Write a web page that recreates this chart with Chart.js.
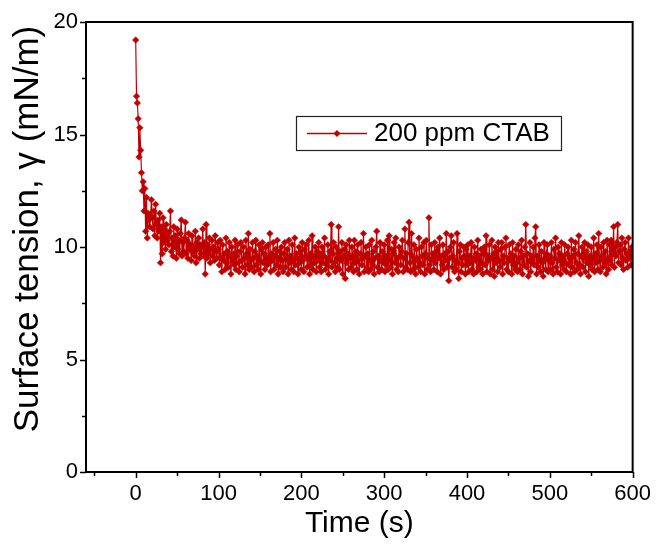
<!DOCTYPE html>
<html><head><meta charset="utf-8">
<script src="https://cdn.jsdelivr.net/npm/chart.js@4"></script>
<style>html,body{margin:0;padding:0;background:#fff;}#wrap{width:660px;height:546px;position:relative;}</style>
</head><body><div id="wrap"><canvas id="c" width="660" height="546"></canvas></div>
<script>
const seriesLabel = '200 ppm CTAB';
const xTitle = 'Time (s)';
const yTitle = 'Surface tension, \u03B3 (mN/m)';
const xMajorTicks = [0, 100, 200, 300, 400, 500, 600];
const xMinorTicks = [-50, 50, 150, 250, 350, 450, 550];
const yMajorTicks = [0, 5, 10, 15, 20];
const yMinorTicks = [2.5, 7.5, 12.5, 17.5];
const timeStep = 1; // one reading per second, starting at t = 0
const tension = [
19.2,16.7,16.4,15.7,14.0,15.3,14.3,13.3,12.5,12.9,11.6,12.6,10.7,12.2,10.4,11.5,11.2,10.9,11.4,12.1,
11.3,10.8,11.6,10.5,11.9,11.0,10.4,11.2,10.7,11.5,9.3,10.9,9.7,11.3,10.2,10.8,9.9,11.0,10.3,10.6,
10.1,10.7,11.6,9.8,10.4,9.6,10.9,10.0,10.5,9.5,10.8,9.9,10.3,9.7,10.6,11.2,9.6,10.2,9.8,10.4,
11.1,9.7,10.3,9.5,10.6,9.9,10.1,9.4,10.5,9.8,10.0,9.6,10.7,9.3,10.2,9.9,10.4,9.5,10.1,9.7,
10.0,10.8,9.6,10.2,8.8,11.0,9.5,10.1,9.7,10.4,9.3,9.9,10.3,9.6,10.0,9.4,10.5,9.8,9.5,10.2,
9.9,9.2,10.3,9.5,8.9,10.1,9.4,9.7,9.0,10.4,9.3,9.8,9.1,10.2,9.6,8.8,10.0,9.4,9.7,9.2,
10.3,9.0,9.6,10.1,9.3,8.9,9.8,10.2,9.4,9.1,10.0,9.5,8.8,10.3,9.7,9.2,10.6,9.0,9.9,9.4,
9.1,10.2,9.5,8.9,9.8,10.3,9.2,9.6,9.0,10.1,9.4,8.8,9.9,10.2,9.3,9.7,9.0,10.0,9.5,9.2,
10.1,9.3,10.6,8.9,9.7,9.4,10.2,9.0,9.6,9.9,9.2,10.3,8.8,9.5,9.8,9.1,10.0,9.4,8.9,9.7,
10.2,9.1,9.5,9.9,8.8,10.3,9.3,9.6,9.0,10.1,9.4,8.9,10.4,9.2,9.7,9.5,8.8,10.0,9.3,9.8,
9.0,10.2,9.4,8.9,9.9,9.6,10.1,9.1,9.5,10.3,8.8,9.7,9.2,10.5,9.0,9.6,9.3,10.0,8.9,9.8,
9.4,10.2,9.1,9.7,8.9,10.0,9.3,9.6,10.4,9.0,9.5,9.2,10.1,8.8,9.8,9.4,11.0,9.1,9.7,10.2,
9.3,8.9,10.0,9.5,9.1,10.9,9.0,9.8,9.4,10.2,8.8,9.6,9.9,8.6,10.1,9.3,9.7,9.0,10.3,9.5,
9.1,10.0,9.6,8.9,10.3,9.3,9.8,9.0,10.1,9.4,8.8,9.7,10.2,9.2,9.5,10.6,8.9,9.6,10.0,9.1,
9.7,8.9,10.1,9.4,9.0,10.3,9.2,9.8,8.8,9.5,10.0,10.7,9.1,9.6,8.9,10.2,9.4,9.0,9.8,9.3,
10.1,8.9,9.6,9.2,10.3,9.0,10.5,9.4,9.1,9.9,8.8,9.7,10.2,9.3,10.4,9.0,9.5,8.9,10.0,9.6,
9.2,9.8,10.3,8.9,9.5,10.8,9.1,9.7,9.0,10.2,11.1,9.3,8.9,10.6,9.6,9.0,10.1,9.4,8.8,9.9,
9.5,9.1,10.4,9.3,8.9,10.0,9.6,9.2,10.2,8.8,9.7,10.3,9.0,9.5,11.3,9.2,8.9,10.1,9.4,9.7,
9.0,10.2,9.3,9.8,8.9,10.0,9.5,10.4,8.8,9.6,9.2,10.1,9.0,9.7,9.4,10.6,9.1,9.8,8.5,9.5,
10.0,10.5,9.1,9.6,10.2,8.9,9.4,9.0,10.6,9.3,8.6,9.8,10.1,8.9,9.5,9.2,10.0,9.6,8.8,9.9,
9.2,10.1,8.9,9.6,9.3,10.2,9.0,9.5,8.8,10.0,9.4,9.7,8.9,10.3,9.1,9.6,9.0,9.9,9.3,8.8,
9.7,10.0,9.2,10.5,8.9,9.6,9.4,10.1,8.8,9.5,10.3,9.0,9.7,8.7,10.0,9.3,9.8,8.9,10.2,9.4,
9.1,9.9,10.2,8.8,9.6,9.3,10.0,10.4,9.0,9.5,8.9,10.1,9.4,9.7,8.8,10.2,9.2,9.6,9.0,9.9,
9.3,8.9,10.1,9.5,9.0,9.8,10.3,8.8,9.6,9.2,10.0,11.0,9.1,9.7,8.7,9.4,10.2,8.9,9.6,9.3,
10.0,9.2,10.4,10.9,8.8,9.6,9.1,10.1,9.4,8.9,9.8,9.3,8.7,10.2,9.5,9.0,9.7,10.1,8.9,9.4,
9.6,9.0,10.2,9.3,8.8,9.9,9.5,10.4,9.1,8.9,10.0,9.4,9.7,8.8,10.2,9.2,9.6,9.0,10.1,9.3,
8.9,9.7,10.0,9.2,9.5,8.8,10.3,9.1,9.6,9.9,8.9,10.2,9.3,9.0,9.7,10.5,9.2,8.8,9.6,10.0,
9.1,9.5,10.2,8.9,9.8,9.3,10.1,8.7,9.6,9.2,10.0,9.0,9.5,10.4,8.9,9.7,9.3,10.1,9.0,10.6,
9.4,8.9,10.0,9.6,9.1,10.2,9.3,9.8,8.8,10.3,9.5,9.0,10.1,9.4,10.3,9.2,9.7,10.9,9.1,10.0,
9.6,10.2,11.0,9.3,9.8,10.1,9.2,10.4,9.5,9.0,9.9,10.2,9.4,9.7,9.1,10.4,9.5,9.8,9.2,10.0,9.6
];
const times = tension.map((_, i) => i * timeStep);

const seriesColor = '#C00000';
const FONT = '"Liberation Sans", Arial, sans-serif';

const decor = {
  id: 'decor',
  afterDraw(chart) {
    const ctx = chart.ctx;
    const a = chart.chartArea;
    const xs = chart.scales.x, ys = chart.scales.y;
    ctx.save();
    ctx.strokeStyle = '#000';
    ctx.lineWidth = 1.5;
    ctx.beginPath();
    xMajorTicks.forEach(v => { const p = Math.round(xs.getPixelForValue(v)) + 0.5; ctx.moveTo(p, a.bottom); ctx.lineTo(p, a.bottom + 6); });
    xMinorTicks.forEach(v => { const p = Math.round(xs.getPixelForValue(v)) + 0.5; ctx.moveTo(p, a.bottom); ctx.lineTo(p, a.bottom + 4); });
    yMajorTicks.forEach(v => { const p = Math.round(ys.getPixelForValue(v)) + 0.5; ctx.moveTo(a.left, p); ctx.lineTo(a.left - 6, p); });
    yMinorTicks.forEach(v => { const p = Math.round(ys.getPixelForValue(v)) + 0.5; ctx.moveTo(a.left, p); ctx.lineTo(a.left - 4, p); });
    ctx.stroke();
    ctx.lineWidth = 2;
    ctx.strokeRect(a.left, a.top, a.right - a.left, a.bottom - a.top);

    // axis titles
    ctx.fillStyle = '#000';
    ctx.textAlign = 'center';
    ctx.textBaseline = 'middle';
    ctx.font = '30px ' + FONT;
    ctx.fillText(xTitle, (a.left + a.right) / 2, 524);
    ctx.save();
    ctx.translate(28, 229);
    ctx.rotate(-Math.PI / 2);
    ctx.font = '35px ' + FONT;
    ctx.fillText(yTitle, 0, 0);
    ctx.restore();

    // legend
    ctx.lineWidth = 1.2;
    ctx.strokeStyle = '#222';
    ctx.strokeRect(296.5, 116.5, 265, 34);
    ctx.strokeStyle = seriesColor;
    ctx.lineWidth = 1.5;
    ctx.beginPath(); ctx.moveTo(307, 133.5); ctx.lineTo(367, 133.5); ctx.stroke();
    ctx.fillStyle = seriesColor;
    ctx.beginPath(); ctx.moveTo(337, 130); ctx.lineTo(340.5, 133.5); ctx.lineTo(337, 137); ctx.lineTo(333.5, 133.5); ctx.closePath(); ctx.fill();
    ctx.fillStyle = '#000';
    ctx.textAlign = 'left';
    ctx.font = '26px ' + FONT;
    ctx.fillText(seriesLabel, 374, 134);
    ctx.restore();
  }
};

new Chart(document.getElementById('c'), {
  type: 'line',
  data: {
    datasets: [{
      label: seriesLabel,
      data: times.map((t, i) => ({ x: t, y: tension[i] })),
      borderColor: seriesColor,
      backgroundColor: seriesColor,
      borderWidth: 1.2,
      pointStyle: 'rectRot',
      pointRadius: 3.3,
      pointBorderWidth: 0.5,
      pointBackgroundColor: seriesColor,
      pointBorderColor: seriesColor,
      tension: 0
    }]
  },
  options: {
    responsive: false,
    animation: false,
    devicePixelRatio: 1,
    layout: { padding: { left: 0, top: 22, right: 23, bottom: 0 } },
    plugins: { legend: { display: false }, tooltip: { enabled: false } },
    scales: {
      x: {
        type: 'linear', min: -60, max: 600,
        afterBuildTicks: s => { s.ticks = xMajorTicks.map(v => ({ value: v })); },
        afterFit: s => { s.height = 74; },
        grid: { display: false, drawTicks: false }, border: { display: false },
        ticks: { color: '#000', font: { family: FONT, size: 22 }, padding: 9, maxRotation: 0, autoSkip: false }
      },
      y: {
        type: 'linear', min: 0, max: 20,
        afterBuildTicks: s => { s.ticks = yMajorTicks.map(v => ({ value: v })); },
        afterFit: s => { s.width = 86; },
        grid: { display: false, drawTicks: false }, border: { display: false },
        ticks: { color: '#000', font: { family: FONT, size: 22 }, padding: 8 }
      }
    }
  },
  plugins: [decor]
});
</script></body></html>
